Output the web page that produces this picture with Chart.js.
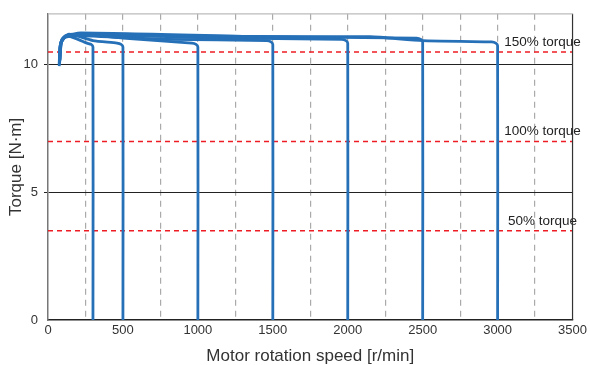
<!DOCTYPE html>
<html>
<head>
    <title>Motor torque vs speed</title>
    <script src="https://cdn.jsdelivr.net/npm/chart.js"></script>
    <style>
        body {
            margin: 0;
            background-color: #fff;
        }
        #wrap {
            width: 590px;
            height: 365px;
        }
    </style>
</head>
<body>
    <div id="wrap"><canvas id="torqueChart"></canvas></div>

    <script>
        // Target speeds of each run [r/min]
        var speeds = [300, 500, 1000, 1500, 2000, 2500, 3000];

        // Each run: speed points and torque points
        var runSpeeds = [
            [75, 78, 90, 120, 200, 260, 288, 300, 300],
            [75, 80, 95, 140, 300, 460, 488, 500, 500],
            [76, 82, 100, 160, 500, 960, 988, 1000, 1000],
            [77, 84, 105, 180, 800, 1460, 1488, 1500, 1500],
            [78, 86, 110, 200, 1100, 1960, 1988, 2000, 2000],
            [79, 88, 115, 220, 1400, 2460, 2488, 2500, 2500],
            [80, 90, 120, 240, 1700, 2150, 2500, 2960, 2988, 3000, 3000]
        ];
        var runTorques = [
            [9.95, 10.6, 10.95, 11.15, 11.0, 10.85, 10.8, 10.7, 0],
            [10.0, 10.7, 11.0, 11.2, 10.95, 10.85, 10.8, 10.7, 0],
            [10.05, 10.75, 11.05, 11.2, 11.05, 10.85, 10.8, 10.7, 0],
            [10.1, 10.8, 11.05, 11.15, 11.0, 10.95, 10.9, 10.8, 0],
            [10.1, 10.8, 11.1, 11.2, 11.05, 11.0, 10.95, 10.85, 0],
            [10.15, 10.85, 11.1, 11.25, 11.1, 11.05, 11.0, 10.9, 0],
            [10.2, 10.9, 11.1, 11.15, 11.1, 11.1, 10.95, 10.9, 10.85, 10.75, 0]
        ];

        // Rated torque levels
        var refLabels = ['50% torque', '100% torque', '150% torque'];
        var refValues = [3.5, 7.0, 10.5];

        var xTicks = [0, 500, 1000, 1500, 2000, 2500, 3000, 3500];
        var yTicks = [0, 5, 10];

        var fontFamily = '"Liberation Sans", Arial, sans-serif';

        var datasets = [];
        for (var i = 0; i < speeds.length; i++) {
            var pts = [];
            for (var j = 0; j < runSpeeds[i].length; j++) {
                pts.push({ x: runSpeeds[i][j], y: runTorques[i][j] });
            }
            datasets.push({
                label: speeds[i] + ' r/min',
                data: pts,
                borderColor: '#2670b8',
                borderWidth: 2.8,
                pointRadius: 0,
                tension: 0.2,
                fill: false
            });
        }
        for (var k = 0; k < refValues.length; k++) {
            datasets.push({
                label: refLabels[k],
                data: [{ x: 0, y: refValues[k] }, { x: 3500, y: refValues[k] }],
                borderColor: '#ee1c25',
                borderWidth: 1.5,
                borderDash: [5, 4],
                pointRadius: 0,
                fill: false
            });
        }

        // Draw the "xx% torque" texts above the dashed lines
        var refTextPlugin = {
            id: 'refText',
            afterDatasetsDraw: function(chart) {
                var ctx = chart.ctx;
                var xs = chart.scales.x, ys = chart.scales.y;
                ctx.save();
                ctx.font = '13.5px ' + fontFamily;
                ctx.fillStyle = '#222';
                ctx.textAlign = 'center';
                ctx.textBaseline = 'bottom';
                for (var k = 0; k < refValues.length; k++) {
                    ctx.fillText(refLabels[k], xs.getPixelForValue(3300), ys.getPixelForValue(refValues[k]) - 3);
                }
                ctx.restore();
            }
        };

        var framePlugin = {
            id: 'frame',
            afterDraw: function(chart) {
                var a = chart.chartArea, c = chart.ctx;
                c.save();
                c.strokeStyle = '#333';
                c.lineWidth = 1.2;
                c.beginPath();
                c.moveTo(a.right, a.top);
                c.lineTo(a.right, a.bottom);
                c.stroke();
                c.strokeStyle = '#bbb';
                c.beginPath();
                c.moveTo(a.left, a.top);
                c.lineTo(a.right, a.top);
                c.stroke();
                c.restore();
            }
        };

        var ctx = document.getElementById('torqueChart').getContext('2d');
        var chart = new Chart(ctx, {
            type: 'line',
            data: { datasets: datasets },
            options: {
                responsive: true,
                maintainAspectRatio: false,
                animation: false,
                layout: { padding: { top: 12, right: 15, left: 0, bottom: 0 } },
                plugins: {
                    legend: { display: false },
                    tooltip: { enabled: false }
                },
                scales: {
                    x: {
                        type: 'linear',
                        min: 0,
                        max: 3500,
                        border: { display: true, color: '#222', width: 1.5, dash: [6, 5] },
                        ticks: {
                            stepSize: 250,
                            autoSkip: false,
                            maxRotation: 0,
                            color: '#333',
                            font: { size: 13, family: fontFamily },
                            callback: function(v) { return xTicks.indexOf(v) >= 0 ? v : ''; }
                        },
                        grid: {
                            drawTicks: false,
                            color: function(c) {
                                var v = c.tick.value;
                                return (v > 0 && v < 3500) ? '#aaa' : 'rgba(0,0,0,0)';
                            },
                            lineWidth: 1.2
                        },
                        title: {
                            display: true,
                            text: 'Motor rotation speed [r/min]',
                            color: '#333',
                            font: { size: 17, family: fontFamily },
                            padding: { top: 4, bottom: -2 }
                        },
                        afterFit: function(s) { s.height = 45; }
                    },
                    y: {
                        min: 0,
                        max: 12,
                        border: { display: true, color: '#777', width: 1.5 },
                        ticks: {
                            stepSize: 5,
                            color: '#333',
                            padding: 6,
                            font: { size: 13, family: fontFamily },
                            callback: function(v) { return yTicks.indexOf(v) >= 0 ? v : ''; }
                        },
                        grid: {
                            drawTicks: true,
                            tickLength: 4,
                            color: function(c) {
                                var v = c.tick.value;
                                return (v === 5 || v === 10) ? '#222' : 'rgba(0,0,0,0)';
                            },
                            lineWidth: 1
                        },
                        title: {
                            display: true,
                            text: 'Torque [N·m]',
                            color: '#333',
                            font: { size: 17, family: fontFamily },
                            padding: { top: 6, bottom: 0 }
                        },
                        afterFit: function(s) { s.width = 48; }
                    }
                }
            },
            plugins: [refTextPlugin, framePlugin]
        });
    </script>
</body>
</html>
